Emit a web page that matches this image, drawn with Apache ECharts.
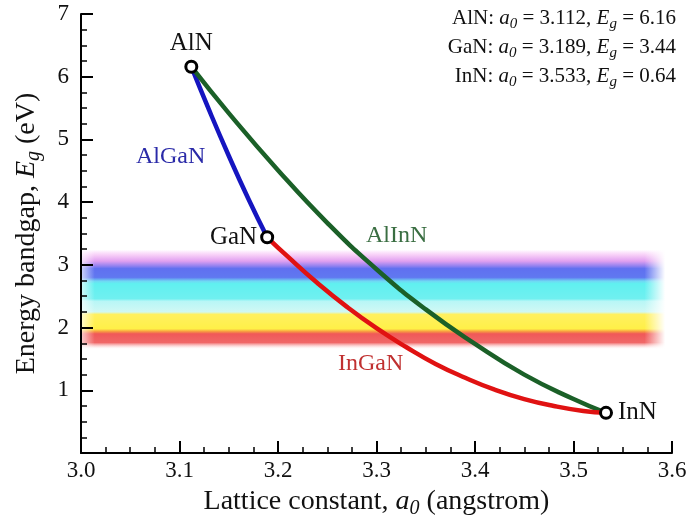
<!DOCTYPE html>
<html>
<head>
<meta charset="utf-8">
<script src="https://cdn.jsdelivr.net/npm/echarts@6/dist/echarts.min.js"></script>
<style type="text/css">
  * {
    margin: 0;
    padding: 0;
  }
  body {
    background: #fff;
  }
</style>
</head>
<body>
<div id="chart" style="width: 689px;height: 522px;"></div>
<script type="text/javascript">
  // binary endpoints
  const compounds = ['AlN', 'GaN', 'InN']
  const latticeA0 = [3.112, 3.189, 3.533]
  const bandgapEg = [6.16, 3.44, 0.64]

  // ternary curves: [a0, Eg]
  const alganCurve = [[3.112, 6.16], [3.13, 5.47], [3.15, 4.74], [3.17, 4.05], [3.189, 3.44]]
  const inganCurve = [[3.189, 3.44], [3.21, 3.13], [3.24, 2.71], [3.27, 2.33], [3.30, 1.99], [3.33, 1.69],
    [3.36, 1.42], [3.39, 1.20], [3.42, 1.01], [3.45, 0.86], [3.48, 0.75], [3.51, 0.67], [3.533, 0.64]]
  const alinnCurve = [[3.112, 6.16], [3.15, 5.42], [3.20, 4.51], [3.25, 3.67], [3.30, 2.93], [3.35, 2.29],
    [3.40, 1.74], [3.45, 1.25], [3.50, 0.86], [3.533, 0.64]]

  // visible spectrum band (Eg levels, top to bottom)
  const bandEg = [3.24, 3.16, 3.06, 2.98, 2.94, 2.80, 2.74, 2.70, 2.46, 2.42, 2.25, 2.21, 1.98, 1.94, 1.90, 1.76, 1.66]
  const bandColors = ['rgba(250,200,250,0)', '#f8d0f8', '#e0a0f0', '#9080f0', '#6070f0', '#6078f0',
    '#70d8f4', '#60f0f0', '#70f0f0', '#b8f6f6', '#d0f8f4', '#fff060', '#fff048', '#f8a040', '#f05858',
    '#f06868', 'rgba(255,220,220,0)']

  const xTicks = [3.0, 3.6, 0.1]
  const yTicks = [0, 7, 1]

  const serif = 'Liberation Serif'
  let myChart = echarts.init(document.getElementById('chart'))

  let bandTop = bandEg[0]
  let bandBottom = bandEg[bandEg.length - 1]
  let stops = bandEg.map(function (e, i) {
    return {offset: (bandTop - e) / (bandTop - bandBottom), color: bandColors[i]}
  })

  let markerData = compounds.map(function (name, i) {
    return {
      name: name,
      value: [latticeA0[i], bandgapEg[i]],
      label: {position: ['top', 'left', 'right'][i], distance: [4, 3, 5][i]}
    }
  })

  function subRich(size) {
    return {
      i: {fontFamily: serif, fontSize: size, fontStyle: 'italic', verticalAlign: 'bottom'},
      s: {fontFamily: serif, fontSize: Math.round(size * 0.72), fontStyle: 'italic', verticalAlign: 'bottom', padding: [0, 0, -3, 0]}
    }
  }

  function legendLine(name, a, e, top) {
    return {
      type: 'text',
      right: 13,
      top: top,
      style: {
        text: name + ': {i|a}{s|0} = ' + a.toFixed(3) + ', {i|E}{s|g} = ' + e.toFixed(2),
        font: '21px ' + serif,
        fill: '#111',
        rich: subRich(21)
      }
    }
  }

  function curveLabel(text, left, top, color) {
    return {type: 'text', left: left, top: top, style: {text: text, font: '24px ' + serif, fill: color}}
  }

  myChart.setOption({
    animation: false,
    backgroundColor: '#fff',
    grid: {left: 81, right: 17, top: 14, bottom: 69, outerBoundsMode: 'none'},
    xAxis: {
      type: 'value',
      min: xTicks[0],
      max: xTicks[1],
      interval: xTicks[2],
      z: 5,
      splitLine: {show: false},
      axisLine: {lineStyle: {color: '#000', width: 2}},
      axisTick: {inside: true, length: 12, lineStyle: {color: '#000', width: 2}},
      minorTick: {show: true, splitNumber: 4, length: 6, lineStyle: {color: '#000', width: 1.5}},
      axisLabel: {
        margin: 6, color: '#111', fontFamily: serif, fontSize: 23,
        formatter: function (v) { return v.toFixed(1) }
      },
      name: 'Lattice constant, {i|a}{s|0} (angstrom)',
      nameLocation: 'middle',
      nameGap: 35,
      nameTextStyle: {color: '#111', fontFamily: serif, fontSize: 28, rich: subRich(28)}
    },
    yAxis: {
      type: 'value',
      min: yTicks[0],
      max: yTicks[1],
      interval: yTicks[2],
      z: 5,
      splitLine: {show: false},
      axisLine: {lineStyle: {color: '#000', width: 2}},
      axisTick: {inside: true, length: 12, lineStyle: {color: '#000', width: 2}},
      minorTick: {show: true, splitNumber: 4, length: 6, lineStyle: {color: '#000', width: 1.5}},
      axisLabel: {
        margin: 12, color: '#111', fontFamily: serif, fontSize: 23,
        formatter: function (v) { return v === 0 ? '' : String(v) }
      },
      name: 'Energy bandgap, {i|E}{s|g} (eV)',
      nameLocation: 'middle',
      nameGap: 40,
      nameTextStyle: {color: '#111', fontFamily: serif, fontSize: 28, rich: subRich(28)}
    },
    series: [
      {
        // spectrum band
        type: 'line',
        z: 1,
        silent: true,
        data: [],
        markArea: {
          silent: true,
          label: {show: false},
          data: [[
            {xAxis: xTicks[0], yAxis: bandTop, itemStyle: {color: {type: 'linear', x: 0, y: 0, x2: 0, y2: 1, colorStops: stops}}},
            {xAxis: xTicks[1], yAxis: bandBottom}
          ]]
        }
      },
      {
        // soft fade at left / right ends of the band
        type: 'line',
        z: 2,
        silent: true,
        data: [],
        markArea: {
          silent: true,
          label: {show: false},
          data: [
            [
              {xAxis: 3.0, yAxis: bandTop, itemStyle: {color: {type: 'linear', x: 0, y: 0, x2: 1, y2: 0,
                colorStops: [{offset: 0, color: 'rgba(255,255,255,0.7)'}, {offset: 1, color: 'rgba(255,255,255,0)'}]}}},
              {xAxis: 3.014, yAxis: bandBottom}
            ],
            [
              {xAxis: 3.572, yAxis: bandTop, itemStyle: {color: {type: 'linear', x: 0, y: 0, x2: 1, y2: 0,
                colorStops: [{offset: 0, color: 'rgba(255,255,255,0)'}, {offset: 0.75, color: '#fff'}, {offset: 1, color: '#fff'}]}}},
              {xAxis: 3.6, yAxis: bandBottom}
            ]
          ]
        }
      },
      {
        name: 'AlGaN',
        type: 'line',
        z: 3,
        data: alganCurve,
        smooth: true,
        showSymbol: false,
        lineStyle: {color: '#1515c0', width: 4.5}
      },
      {
        name: 'AlInN',
        type: 'line',
        z: 3,
        data: alinnCurve,
        smooth: true,
        showSymbol: false,
        lineStyle: {color: '#1b6028', width: 4.5}
      },
      {
        name: 'InGaN',
        type: 'line',
        z: 3,
        data: inganCurve,
        smooth: true,
        showSymbol: false,
        lineStyle: {color: '#e01212', width: 4.5}
      },
      {
        name: 'binaries',
        type: 'scatter',
        z: 4,
        symbol: 'circle',
        symbolSize: 11,
        itemStyle: {color: '#fff', borderColor: '#000', borderWidth: 3, opacity: 1},
        label: {
          show: true,
          formatter: '{b}',
          color: '#111',
          fontFamily: serif,
          fontSize: 25
        },
        data: markerData
      }
    ],
    graphic: [
      legendLine(compounds[0], latticeA0[0], bandgapEg[0], 8),
      legendLine(compounds[1], latticeA0[1], bandgapEg[1], 37),
      legendLine(compounds[2], latticeA0[2], bandgapEg[2], 66),
      curveLabel('AlGaN', 136, 145, '#2a2aa8'),
      curveLabel('AlInN', 366, 224, '#3a6e42'),
      curveLabel('InGaN', 338, 352, '#c03030')
    ]
  })
</script>
</body>
</html>
